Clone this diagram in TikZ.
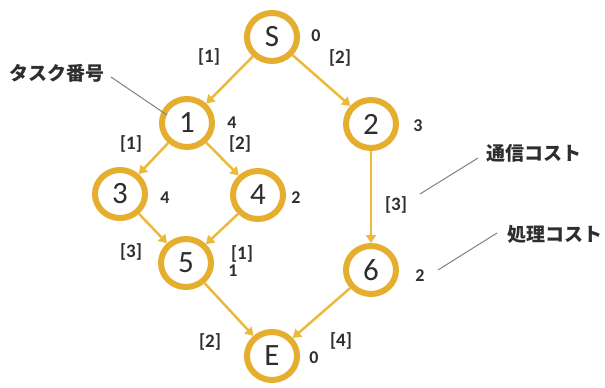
\documentclass[tikz,border=0pt]{standalone}
\usepackage{fontspec}
\setmainfont{Carlito}[BoldFont={Carlito Bold}]
\newfontfamily\jp{Noto Sans CJK JP}
\usetikzlibrary{shapes.geometric,arrows.meta}
\definecolor{gold}{HTML}{E6AE2E}
\definecolor{edgec}{HTML}{ECB93C}
\definecolor{txt}{HTML}{2E2E2E}
\begin{document}
\begin{tikzpicture}[x=1pt,y=-1pt,
 task/.style={ellipse,draw=gold,line width=6pt,minimum width=50pt,minimum height=48pt,inner sep=0pt,font=\fontsize{31}{31}\selectfont,text=txt},
 cost/.style={font=\bfseries\fontsize{18}{18}\selectfont,text=txt},
 comm/.style={font=\bfseries\fontsize{19}{19}\selectfont,text=txt},
 edge/.style={draw=edgec,line width=2.5pt,-{Triangle[length=8pt,width=10pt]}},
 note/.style={font=\jp\bfseries\fontsize{19}{20}\selectfont,text=txt},
 lead/.style={draw=gray,line width=1pt}]
\useasboundingbox (0,0) rectangle (605,388);
\fill[white] (0,0) rectangle (605,388);
% tasks
\node[task] (S) at (272,37) {S};
\node[task] (n1) at (187,123) {1};
\node[task] (n2) at (371,124) {2};
\node[task] (n3) at (120,194) {3};
\node[task] (n4) at (258,195) {4};
\node[task] (n5) at (186,263) {5};
\node[task] (n6) at (371,270) {6};
\node[task] (E) at (272,356) {E};
% processing costs
\node[cost] (cS) at (316,36) {0};
\node[cost] (c1) at (232,123) {4};
\node[cost] (c2) at (418,126) {3};
\node[cost] (c3) at (165,198) {4};
\node[cost] (c4) at (296,198) {2};
\node[cost] (c5) at (233,271) {1};
\node[cost] (c6) at (420,276) {2};
\node[cost] (cE) at (314,358) {0};
% edges
\draw[edge] (S) -- (n1);
\draw[edge] (S) -- (n2);
\draw[edge] (n1) -- (n3);
\draw[edge] (n1) -- (n4);
\draw[edge] (n3) -- (n5);
\draw[edge] (n4) -- (n5);
\draw[edge] (n2) -- (n6);
\draw[edge] (n5) -- (E);
\draw[edge] (n6) -- (E);
% communication costs
\node[comm] (eS1) at (209,57) {[1]};
\node[comm] (eS2) at (340,58) {[2]};
\node[comm] (e13) at (131,144) {[1]};
\node[comm] (e14) at (240,144) {[2]};
\node[comm] (e35) at (131,252) {[3]};
\node[comm] (e45) at (242,254) {[1]};
\node[comm] (e26) at (396,205) {[3]};
\node[comm] (e5E) at (210,342) {[2]};
\node[comm] (e6E) at (341,341) {[4]};
% annotations
\node[note] (t1) at (57,73) {タスク番号};
\node[note] (t2) at (534,153) {通信コスト};
\node[note] (t3) at (555,234) {処理コスト};
\coordinate (a1) at (111,77);
\coordinate (b1) at (167,115);
\coordinate (a2) at (478,158);
\coordinate (b2) at (420,194);
\coordinate (a3) at (497,233);
\coordinate (b3) at (438,270);
\draw[lead] (a1) -- (b1);
\draw[lead] (a2) -- (b2);
\draw[lead] (a3) -- (b3);
\end{tikzpicture}
\end{document}
